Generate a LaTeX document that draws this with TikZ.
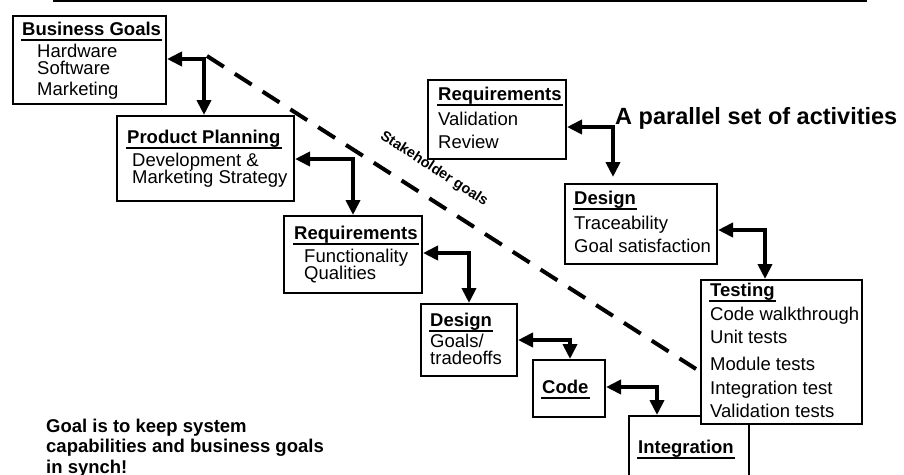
\documentclass[tikz,border=0pt]{standalone}
\usepackage{fontspec}
\setmainfont{Liberation Sans}
\usetikzlibrary{arrows.meta}
\tikzset{
  boxst/.style={draw, line width=2pt, fill=white, anchor=north west, inner sep=0pt},
  txt/.style={anchor=base west, inner sep=0pt, font=\fontsize{18.5}{22}\selectfont},
  ttl/.style={anchor=base west, inner ysep=0pt, inner xsep=1pt, font=\fontsize{18.5}{22}\selectfont\bfseries},
  uline/.style={line width=2pt},
  link/.style={line width=4pt, line join=miter, {Triangle[length=15pt,width=14pt]}-{Triangle[length=15pt,width=14pt]}},
  dashln/.style={line width=4pt, dash pattern=on 20pt off 13pt},
  note/.style={anchor=base west, inner sep=0pt, font=\fontsize{18.5}{22}\selectfont\bfseries},
}
\begin{document}
\begin{tikzpicture}[x=1pt,y=-1pt]
\clip (0,0) rectangle (904,474);
% top rule
\coordinate (r0) at (53,1);
\coordinate (r1) at (867,1);
\draw[line width=1.6pt] (r0) -- (r1);

% dashed stakeholder line (drawn first)
\coordinate (ds0) at (207,56);
\coordinate (ds1) at (696,369);
\draw[dashln] (ds0) -- (ds1);
\node[rotate=-33, inner sep=0pt, font=\fontsize{14.5}{16}\selectfont\bfseries] (stk) at (434,169) {Stakeholder goals};

% boxes
\node[boxst, minimum width=153pt, minimum height=88pt] (bg) at (12,15) {};
\node[boxst, minimum width=177pt, minimum height=85pt] (pp) at (116,115) {};
\node[boxst, minimum width=138pt, minimum height=77pt] (rq) at (283,215) {};
\node[boxst, minimum width=96pt, minimum height=72pt] (ds) at (420,303) {};
\node[boxst, minimum width=72pt, minimum height=57pt] (cd) at (532,359) {};
\node[boxst, minimum width=120pt, minimum height=80pt] (ig) at (628,415) {};
\node[boxst, minimum width=161pt, minimum height=144pt] (ts) at (700,279) {};
\node[boxst, minimum width=138pt, minimum height=79pt] (rv) at (427,79) {};
\node[boxst, minimum width=152pt, minimum height=80pt] (dv) at (564,183) {};

% Business Goals
\node[ttl] (t1) at (21,35) {Business Goals};
\node[txt] (b1) at (37,57) {Hardware};
\node[txt] (b2) at (37,74) {Software};
\node[txt] (b3) at (37,95) {Marketing};
% Product Planning
\node[ttl] (t2) at (126,143) {Product Planning};
\node[txt] (p1) at (132,166) {Development \&};
\node[txt] (p2) at (132,183) {Marketing Strategy};
% Requirements
\node[ttl] (t3) at (293,239) {Requirements};
\node[txt] (q1) at (304,262) {Functionality};
\node[txt] (q2) at (304,279) {Qualities};
% Design
\node[ttl] (t4) at (429,326) {Design};
\node[txt] (d1) at (430,347) {Goals/};
\node[txt] (d2) at (430,364) {tradeoffs};
% Code
\node[ttl] (t5) at (541,393) {Code};
% Integration
\node[ttl] (t6) at (637,453) {Integration};
% Testing
\node[ttl] (t7) at (709,296) {Testing};
\node[txt] (s1) at (710,320) {Code walkthrough};
\node[txt] (s2) at (710,343) {Unit tests};
\node[txt] (s3) at (710,370) {Module tests};
\node[txt] (s4) at (710,394) {Integration test};
\node[txt] (s5) at (710,417) {Validation tests};
% Requirements (validation)
\node[ttl] (t8) at (437,100) {Requirements};
\node[txt] (v1) at (438,125) {Validation};
\node[txt] (v2) at (438,148) {Review};
% Design (traceability)
\node[ttl] (t9) at (573,204) {Design};
\node[txt] (e1) at (574,229) {Traceability};
\node[txt] (e2) at (574,252) {Goal satisfaction};

% underlines
\foreach \t in {t1,t2,t3,t4,t5,t6,t7,t8,t9}
  \draw[uline] ([yshift=-5pt]\t.base west) -- ([yshift=-5pt]\t.base east);

% connectors
\draw[link] (bg.east |- 0,59) -| (pp.north -| 204,0);
\draw[link] (pp.east |- 0,159) -| (rq.north -| 353,0);
\draw[link] (rq.east |- 0,253) -| (ds.north -| 469,0);
\draw[link] (ds.east |- 0,340) -| (cd.north -| 570,0);
\draw[link] (cd.east |- 0,387) -| (ig.north -| 657,0);
\draw[link, shorten >=6pt] (rv.east |- 0,127) -| (dv.north -| 613,0);
\draw[link] (dv.east |- 0,230) -| (ts.north -| 765,0);

% headline and note
\node[anchor=base west, inner sep=0pt, font=\fontsize{23.5}{26}\selectfont\bfseries] (par) at (615,124) {A parallel set of activities};
\node[note] (n1) at (46,432) {Goal is to keep system};
\node[note] (n2) at (46,452) {capabilities and business goals};
\node[note] (n3) at (46,473) {in synch!};
\end{tikzpicture}
\end{document}
